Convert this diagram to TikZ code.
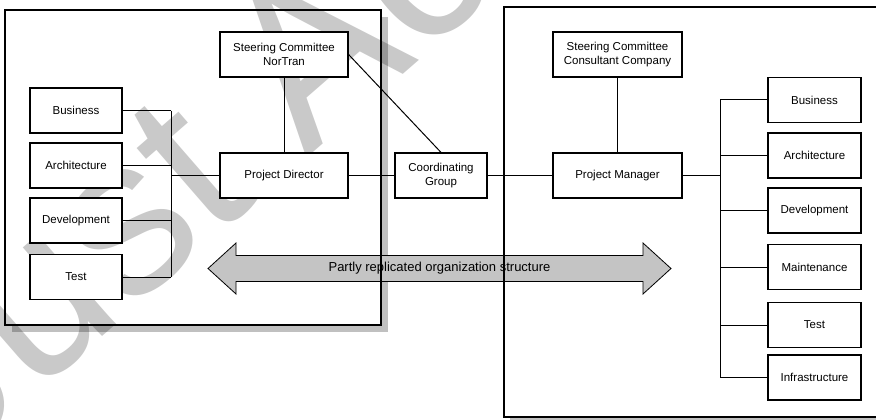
\documentclass[tikz,border=0pt]{standalone}
\usepackage{fontspec}
\setmainfont{Liberation Sans}
\definecolor{shadowgray}{HTML}{C0C0C0}
\definecolor{bandgray}{HTML}{C4C4C4}
\begin{document}
\begin{tikzpicture}[x=1pt,y=-1pt,
  unit/.style={draw=black, line width=1.2pt, fill=white, inner sep=1pt,
    align=center, font=\fontsize{11.5}{14}\selectfont,
    minimum height=45pt},
  side/.style={unit, minimum width=92pt},
  head/.style={unit, minimum width=128pt},
  link/.style={draw=black, line width=1pt},
  frame/.style={draw=black, line width=1.3pt},
  shade/.style={fill=shadowgray, draw=none},
  stampstyle/.style={font=\fontsize{225}{225}\selectfont, text=black, opacity=0.21}]
\useasboundingbox (0,0) rectangle (876,420);
\clip (0,0) rectangle (876,420);

% organisation frames with their drop shadows
\fill[shade] (12,17) rectangle (388,332);
\fill[shade] (510,14) rectangle (900,424);
\fill[white] (5,10) rectangle (381,325);
\fill[white] (504,7) rectangle (894,417);

% replication band between the two organisations
\coordinate (al) at (208,268.5);
\coordinate (ar) at (671,268.5);
\filldraw[fill=bandgray, draw=black, line width=0.8pt]
  (al) -- (236,243) -- (236,255.5) -- (643,255.5) -- (643,243) -- (ar)
  -- (643,294) -- (643,281.5) -- (236,281.5) -- (236,294) -- cycle;
\node[font=\fontsize{13}{15}\selectfont] (band) at (439.5,268.5)
  {Partly replicated organization structure};

% background stamp
\node[stampstyle, rotate=41, anchor=base west, inner sep=0pt] (stamp) at (-52,470) {Just Accepted};

% frame outlines
\draw[frame] (5,10) rectangle (381,325);
\draw[frame] (504,7) rectangle (894,417);

% NorTran side
\node[head] (scn) at (284,54.5) {Steering Committee\\NorTran};
\node[head] (pd)  at (284,175.5) {Project Director};
\node[side] (lbiz)  at (76,110.5) {Business};
\node[side] (larch) at (76,165.5) {Architecture};
\node[side] (ldev)  at (76,220.5) {Development};
\node[side] (ltest) at (76,277)   {Test};
\coordinate (lbus) at (171,175.5);

% coordinating group
\node[side] (cg) at (441,175.5) {Coordinating\\Group};

% consultant side
\node[head, minimum width=129pt] (scc) at (617.5,54.5) {Steering Committee\\Consultant Company};
\node[head, minimum width=129pt] (pm)  at (617.5,175.5) {Project Manager};
\node[side, minimum width=93pt] (rbiz)   at (814.5,100)   {Business};
\node[side, minimum width=93pt] (rarch)  at (814.5,155.5) {Architecture};
\node[side, minimum width=93pt] (rdev)   at (814.5,210.5) {Development};
\node[side, minimum width=93pt] (rmaint) at (814.5,267)   {Maintenance};
\node[side, minimum width=93pt] (rtest)  at (814.5,325)   {Test};
\node[side, minimum width=93pt] (rinfra) at (814.5,377.5) {Infrastructure};
\coordinate (rbus) at (720,175.5);

% connectors
\draw[link] (scn) -- (pd);
\draw[link] (scn.east) -- (cg.north);
\draw[link] (pd) -- (cg);
\draw[link] (cg) -- (pm);
\draw[link] (scc) -- (pm);
\draw[link] (lbus) -- (pd.west);
\draw[link] (lbiz.east -| lbus) -- (ltest.east -| lbus);
\foreach \n in {lbiz,larch,ldev,ltest}
  \draw[link] (\n.east) -- (\n.east -| lbus);
\draw[link] (pm.east) -- (rbus);
\draw[link] (rbiz.west -| rbus) -- (rinfra.west -| rbus);
\foreach \n in {rbiz,rarch,rdev,rmaint,rtest,rinfra}
  \draw[link] (\n.west) -- (\n.west -| rbus);
\end{tikzpicture}
\end{document}
